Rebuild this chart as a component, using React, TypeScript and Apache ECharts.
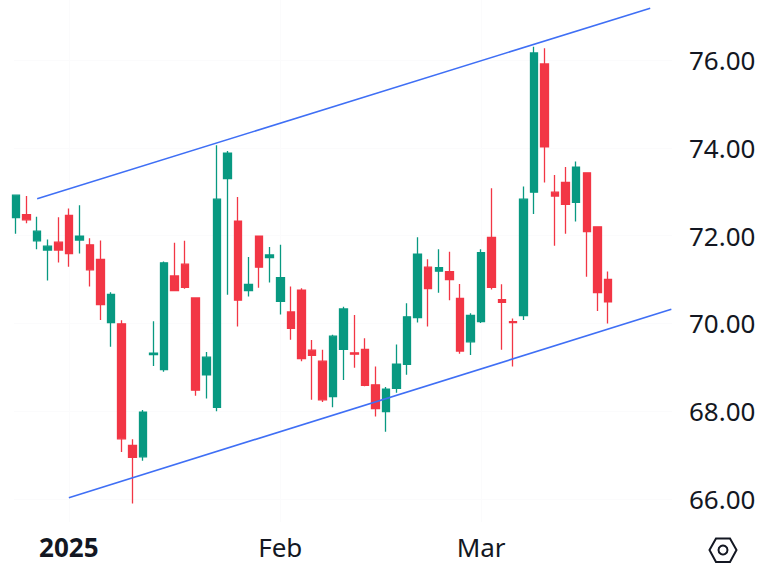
import React, { useEffect, useRef } from "react";
import * as echarts from "echarts";

// [open, close, low, high] for each trading day
const candles: number[][] = [
  [72.41, 72.92, 72.04, 72.92], [72.48, 72.36, 72.28, 72.9], [71.88, 72.1, 71.69, 72.43],
  [71.67, 71.76, 70.98, 71.91], [71.85, 71.67, 71.39, 72.42], [72.46, 71.59, 71.29, 72.62],
  [71.9, 71.99, 71.59, 72.69], [71.79, 71.22, 70.84, 71.94], [71.46, 70.43, 70.08, 71.89],
  [70.02, 70.66, 69.47, 70.71], [69.99, 67.37, 67.07, 70.07], [67.22, 66.95, 65.9, 67.36],
  [66.96, 67.98, 66.87, 68.03], [69.29, 69.32, 69.03, 70.05], [68.95, 71.38, 68.9, 71.41],
  [71.08, 70.75, 70.75, 71.84], [71.35, 70.82, 70.79, 71.88], [70.58, 68.48, 68.35, 70.58],
  [68.83, 69.23, 68.29, 69.35], [68.09, 72.83, 68.0, 74.06], [73.3, 73.88, 70.65, 73.93],
  [72.33, 70.53, 69.93, 72.88], [70.75, 70.89, 70.61, 71.51], [71.99, 71.28, 70.81, 71.99],
  [71.5, 71.56, 70.93, 71.74], [70.5, 71.04, 70.2, 71.79], [70.26, 69.89, 69.63, 70.84],
  [70.76, 69.2, 69.14, 70.8], [69.39, 69.27, 68.26, 69.62], [69.14, 68.26, 68.21, 69.4],
  [68.33, 69.71, 68.09, 69.74], [69.41, 70.33, 68.71, 70.38], [69.33, 69.3, 68.99, 70.19],
  [69.41, 68.59, 68.57, 69.66], [68.6, 68.06, 67.88, 69.02], [67.99, 68.5, 67.53, 68.55],
  [68.52, 69.07, 68.42, 69.52], [69.07, 70.15, 68.83, 70.46], [70.13, 71.58, 70.02, 71.96],
  [71.28, 70.79, 69.93, 71.46], [71.19, 71.27, 70.7, 71.69], [71.18, 71.0, 70.53, 71.63],
  [70.57, 69.37, 69.31, 70.9], [69.58, 70.18, 69.28, 70.23], [70.04, 71.61, 70.01, 71.69],
  [71.96, 70.82, 70.77, 73.08], [70.54, 70.48, 69.4, 70.89], [70.04, 70.02, 69.02, 70.11],
  [70.18, 72.83, 70.08, 73.12], [72.99, 76.16, 72.49, 76.3], [75.91, 74.02, 73.21, 76.27],
  [72.99, 72.9, 71.77, 73.38], [73.21, 72.71, 72.04, 73.56], [72.76, 73.56, 72.32, 73.69],
  [73.43, 72.09, 71.06, 73.43], [72.2, 70.7, 70.28, 72.2], [71.0, 70.49, 70.0, 71.18],
];

const upperChannel: number[][] = [[2, 72.84], [60, 77.18]];
const lowerChannel: number[][] = [[5, 66.03], [62, 70.32]];
const priceTicks = [66, 68, 70, 72, 74, 76];
const timeTickIndex = [5, 25, 44];
const timeTickLabels = ["2025", "Feb", "Mar"];

const FONT = "'Noto Sans', sans-serif";
const INK = "#131722";
const UP = "#089981";
const DOWN = "#F23645";
const CHANNEL = "#3f6ff5";

export default function App() {
  const ref = useRef<HTMLDivElement>(null);
  useEffect(() => {
    const chart = echarts.init(ref.current!, undefined, { renderer: "svg" });
    chart.setOption({
      animation: false,
      backgroundColor: "#ffffff",
      grid: { left: 14, right: 94, top: 0, bottom: 44 },
      xAxis: {
        type: "value",
        min: -0.19,
        max: 62.06,
        axisLine: { show: false },
        axisTick: { show: false, customValues: timeTickIndex },
        splitLine: { show: true, lineStyle: { color: "#fbfbfc", width: 1 } },
        axisLabel: {
          customValues: timeTickIndex,
          margin: 12,
          fontFamily: FONT,
          fontSize: 26,
          color: INK,
          hideOverlap: false,
          formatter: (v: number) => {
            const i = timeTickIndex.indexOf(Math.round(v));
            const t = timeTickLabels[i] ?? "";
            return t === "2025" ? `{b|${t}}` : t;
          },
          rich: { b: { fontFamily: FONT, fontSize: 26, fontWeight: "bold", color: INK } },
        },
      },
      yAxis: {
        type: "value",
        position: "right",
        min: 65.476,
        max: 77.367,
        axisLine: { show: false },
        axisTick: { show: false, customValues: priceTicks },
        splitLine: { show: true, lineStyle: { color: "#fbfbfc", width: 1 } },
        axisLabel: {
          customValues: priceTicks,
          margin: 17,
          fontFamily: FONT,
          fontSize: 26,
          color: INK,
          padding: [0, 0, 4, 0],
          formatter: (v: number) => v.toFixed(2),
        },
      },
      series: [
        {
          type: "candlestick",
          barWidth: 8,
          clip: true,
          encode: { x: 0, y: [1, 2, 3, 4] },
          data: candles.map((c, i) => [i, ...c]),
          itemStyle: { color: UP, color0: DOWN, borderColor: UP, borderColor0: DOWN, borderWidth: 1.3 },
        },
        {
          type: "line",
          data: upperChannel,
          symbol: "none",
          lineStyle: { color: CHANNEL, width: 1.6 },
        },
        {
          type: "line",
          data: lowerChannel,
          symbol: "none",
          lineStyle: { color: CHANNEL, width: 1.6 },
        },
      ],
      graphic: [
        {
          type: "polygon",
          silent: true,
          shape: { points: [[709.5, 550], [716, 538.5], [730, 538.5], [736.5, 550], [730, 562], [716, 562]] },
          style: { fill: "none", stroke: INK, lineWidth: 2 },
        },
        {
          type: "circle",
          silent: true,
          shape: { cx: 723, cy: 550, r: 4.5 },
          style: { fill: "none", stroke: INK, lineWidth: 2 },
        },
      ],
    });
    return () => chart.dispose();
  }, []);
  return <div ref={ref} style={{ position: "fixed", left: 0, top: 0, width: 766, height: 566 }} />;
}
